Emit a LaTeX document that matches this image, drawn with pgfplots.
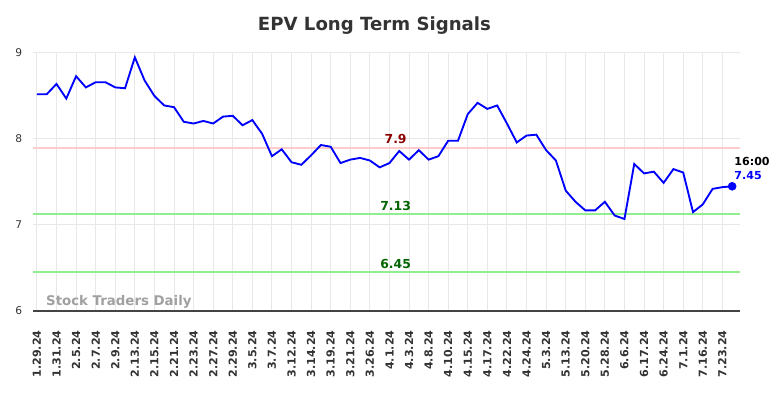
\documentclass[border=0pt]{standalone}
\usepackage{fontspec}
\setmainfont{DejaVu Sans}
\usepackage{pgfplots}
\pgfplotsset{compat=1.18}
\definecolor{gridc}{HTML}{E8E8E8}
\definecolor{axc}{HTML}{444444}
\definecolor{redl}{HTML}{FFCCCC}
\definecolor{greenl}{HTML}{90EE90}
\definecolor{dred}{HTML}{8B0000}
\definecolor{dgreen}{HTML}{006400}
\definecolor{titlec}{HTML}{333333}
\definecolor{wmc}{HTML}{A0A0A0}
\begin{document}
\begin{tikzpicture}[x=1pt,y=1pt]
\useasboundingbox (-24.75pt,-65.25pt) rectangle (563.25pt,233.25pt);
\begin{axis}[at={(0,0)}, anchor=south west, scale only axis,
  width=530.25pt, height=193.5pt,
  xmin=-0.4, xmax=71.8, ymin=6, ymax=9,
  axis x line*=bottom, axis y line*=left,
  x axis line style={draw=axc, line width=1.1pt},
  y axis line style={draw=none},
  major tick length=0pt,
  xtick={0,2,...,70},
  xticklabels={1.29.24,1.31.24,2.5.24,2.7.24,2.9.24,2.13.24,2.15.24,2.21.24,2.23.24,2.27.24,2.29.24,3.5.24,3.7.24,3.12.24,3.14.24,3.19.24,3.21.24,3.26.24,4.1.24,4.3.24,4.8.24,4.10.24,4.15.24,4.17.24,4.22.24,4.24.24,5.3.24,5.13.24,5.20.24,5.28.24,6.6.24,6.17.24,6.24.24,7.1.24,7.16.24,7.23.24},
  ytick={6,7,8,9},
  /pgf/number format/assume math mode=true,
  xticklabel style={rotate=90, anchor=east, inner sep=0pt, xshift=-14.5pt, font=\bfseries\fontsize{8.3}{9}\selectfont, text=titlec},
  yticklabel style={anchor=east, inner sep=0pt, xshift=-8pt, font=\fontsize{8}{9}\selectfont, text=titlec},
  grid=major, major grid style={draw=gridc, line width=0.75pt},
  clip=false,
]
\addplot[draw=redl, line width=1.5pt, forget plot] coordinates {(-0.4,7.9) (71.8,7.9)};
\addplot[draw=greenl, line width=1.2pt, forget plot] coordinates {(-0.4,7.13) (71.8,7.13)};
\addplot[draw=greenl, line width=1.2pt, forget plot] coordinates {(-0.4,6.45) (71.8,6.45)};
\addplot[blue, line width=1.4pt, mark=none] coordinates {
(0,8.52) (1,8.52) (2,8.64) (3,8.47) (4,8.73) (5,8.60) (6,8.66) (7,8.66) (8,8.60) (9,8.59)
(10,8.95) (11,8.68) (12,8.50) (13,8.39) (14,8.37) (15,8.20) (16,8.18) (17,8.21) (18,8.18) (19,8.26)
(20,8.27) (21,8.16) (22,8.22) (23,8.06) (24,7.80) (25,7.88) (26,7.73) (27,7.70) (28,7.81) (29,7.93)
(30,7.91) (31,7.72) (32,7.76) (33,7.78) (34,7.75) (35,7.67) (36,7.72) (37,7.86) (38,7.76) (39,7.87)
(40,7.76) (41,7.80) (42,7.98) (43,7.98) (44,8.29) (45,8.42) (46,8.35) (47,8.39) (48,8.18) (49,7.96)
(50,8.04) (51,8.05) (52,7.87) (53,7.75) (54,7.40) (55,7.27) (56,7.17) (57,7.17) (58,7.27) (59,7.11)
(60,7.07) (61,7.71) (62,7.60) (63,7.62) (64,7.49) (65,7.65) (66,7.61) (67,7.15) (68,7.24) (69,7.42)
(70,7.44) (71,7.45)
};
\addplot[only marks, mark=*, mark size=3pt, blue] coordinates {(71,7.45)};
\node[anchor=south, inner sep=2.5pt, text=dred, font=\bfseries\fontsize{9.3}{10}\selectfont] at (axis cs:36.63,7.9) {7.9};
\node[anchor=south, inner sep=2.5pt, text=dgreen, font=\bfseries\fontsize{9.3}{10}\selectfont] at (axis cs:36.63,7.13) {7.13};
\node[anchor=south, inner sep=2.5pt, text=dgreen, font=\bfseries\fontsize{9.3}{10}\selectfont] at (axis cs:36.63,6.45) {6.45};
\node[anchor=west, inner sep=0pt, text=black, font=\bfseries\fontsize{8.3}{9}\selectfont, xshift=1.5pt, yshift=18.75pt] at (axis cs:71,7.45) {16:00};
\node[anchor=west, inner sep=0pt, text=blue, font=\bfseries\fontsize{8.3}{9}\selectfont, xshift=1.5pt, yshift=7.9pt] at (axis cs:71,7.45) {7.45};
\node[anchor=west, inner sep=0pt, text=wmc, font=\bfseries\fontsize{10}{11}\selectfont] at (axis cs:0.92,6.105) {Stock Traders Daily};
\end{axis}
\node[text=titlec, font=\bfseries\fontsize{13.6}{15}\selectfont, inner sep=0pt] at (256.1pt,213.75pt) {EPV Long Term Signals};
\end{tikzpicture}
\end{document}
